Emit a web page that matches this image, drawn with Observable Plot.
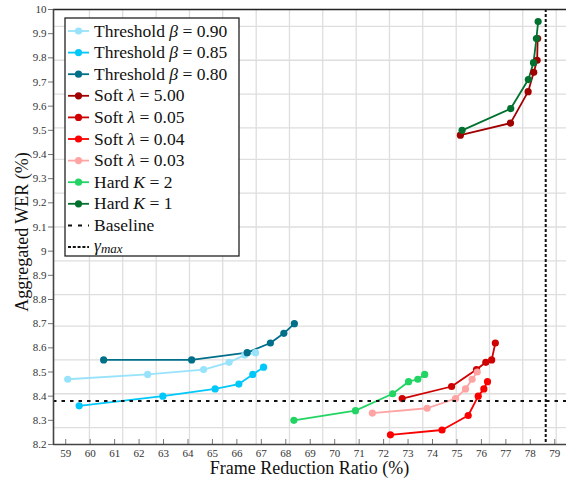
<!DOCTYPE html>
<html><head><meta charset="utf-8">
<script src="https://cdn.jsdelivr.net/npm/d3@7"></script>
<script src="https://cdn.jsdelivr.net/npm/@observablehq/plot@0.6"></script>
<style>
body{margin:0;background:#fff;}
#wrap{position:relative;width:566px;height:478px;}
#overlay{position:absolute;left:0;top:0;pointer-events:none;}
#chart svg text, #overlay text{font-family:"Liberation Serif";}
</style>
</head><body>
<div id="wrap"><div id="chart"></div><svg id="overlay" width="566" height="478"></svg></div>
<script>
// ---- data ----
const thr090X = [59.08, 62.35, 64.64, 65.68, 66.32, 66.76];
const thr090Y = [8.47, 8.49, 8.51, 8.54, 8.57, 8.58];
const thr085X = [59.55, 62.97, 65.11, 66.08, 66.65, 67.09];
const thr085Y = [8.36, 8.40, 8.43, 8.45, 8.49, 8.52];
const thr080X = [60.55, 64.15, 66.42, 67.37, 67.92, 68.35];
const thr080Y = [8.55, 8.55, 8.58, 8.62, 8.66, 8.70];
const soft500X = [75.14, 77.19, 77.91, 78.14, 78.28, 78.30];
const soft500Y = [9.48, 9.53, 9.66, 9.74, 9.79, 9.88];
const soft005X = [72.76, 74.78, 75.80, 76.18, 76.42, 76.57];
const soft005Y = [8.39, 8.44, 8.51, 8.54, 8.55, 8.62];
const soft004X = [72.28, 74.39, 75.46, 75.87, 76.10, 76.25];
const soft004Y = [8.24, 8.26, 8.32, 8.40, 8.43, 8.46];
const soft003X = [71.54, 73.78, 74.94, 75.35, 75.62, 75.83];
const soft003Y = [8.33, 8.35, 8.39, 8.43, 8.47, 8.50];
const hard2X = [68.33, 70.85, 72.37, 73.02, 73.40, 73.68];
const hard2Y = [8.30, 8.34, 8.41, 8.46, 8.47, 8.49];
const hard1X = [75.21, 77.20, 77.92, 78.13, 78.25, 78.32];
const hard1Y = [9.50, 9.59, 9.71, 9.78, 9.88, 9.95];

const baselineWER = 8.38;
const gammaMax = 78.63;

const seriesKeys = ["thr090","thr085","thr080","soft500","soft005","soft004","soft003","hard2","hard1"];
const seriesColors = ["#98e3fb","#00c8fa","#006f8a","#a00000","#cf0000","#fa0000","#ffa3a3","#22d463","#00712f"];
const legendPrefix = ["Threshold ","Threshold ","Threshold ","Soft ","Soft ","Soft ","Soft ","Hard ","Hard "];
const legendSymbol = ["β","β","β","λ","λ","λ","λ","K","K"];
const legendValue = ["0.90","0.85","0.80","5.00","0.05","0.04","0.03","2","1"];

const xTicks = [59,60,61,62,63,64,65,66,67,68,69,70,71,72,73,74,75,76,77,78,79];
const yTicks = [8.2,8.3,8.4,8.5,8.6,8.7,8.8,8.9,9,9.1,9.2,9.3,9.4,9.5,9.6,9.7,9.8,9.9,10];
const gridXs = [59.97,61.33,62.70,64.06,65.42,66.79,68.15,69.51,70.88,72.24,73.60,74.97,76.33,77.69,79.06];
const gridYs = [8.27,8.41,8.55,8.69,8.82,8.96,9.10,9.24,9.38,9.51,9.65,9.79,9.93];

const seriesXs = [thr090X,thr085X,thr080X,soft500X,soft005X,soft004X,soft003X,hard2X,hard1X];
const seriesYs = [thr090Y,thr085Y,thr080Y,soft500Y,soft005Y,soft004Y,soft003Y,hard2Y,hard1Y];
const rows = [];
seriesKeys.forEach((k,i)=>seriesXs[i].forEach((x,j)=>rows.push({series:k,x,y:seriesYs[i][j]})));

const font = "Liberation Serif";
const chart = Plot.plot({
  width: 566, height: 478,
  marginLeft: 53, marginRight: 0, marginTop: 9, marginBottom: 34,
  x: {domain: [58.5, 79.48]},
  y: {domain: [8.2, 10]},
  color: {domain: seriesKeys, range: seriesColors},
  style: {fontFamily: font, fontSize: "11px", background: "white", color: "#333"},
  marks: [
    Plot.gridX(gridXs, {stroke: "#dedede", strokeOpacity: 1, strokeWidth: 1.3}),
    Plot.gridY(gridYs, {stroke: "#dedede", strokeOpacity: 1, strokeWidth: 1.3}),
    Plot.axisX(xTicks, {tickSize: 0, tickPadding: 5, label: null, fontSize: 11, tickFormat: d => String(d)}),
    Plot.tickX(xTicks, {x: d => d, insetTop: 430, stroke: "#777", strokeWidth: 1}),
    Plot.axisY(yTicks, {tickSize: 5, tickPadding: 2, label: null, fontSize: 11, stroke: "#777", tickFormat: d => String(d)}),
    Plot.line(rows, {x: "x", y: "y", z: "series", stroke: "series", strokeWidth: 1.8}),
    Plot.dot(rows, {x: "x", y: "y", fill: "series", r: 3.6}),
    Plot.ruleY([baselineWER], {stroke: "#111", strokeWidth: 2, strokeDasharray: "3.5,5"}),
    Plot.ruleX([gammaMax], {stroke: "#111", strokeWidth: 2, strokeDasharray: "3,2"}),
    Plot.ruleY([10], {stroke: "#222", strokeWidth: 1.3}),
    Plot.ruleY([8.2], {stroke: "#444", strokeWidth: 1.6}),
    Plot.ruleX([58.5], {stroke: "#444", strokeWidth: 1.6})
  ]
});
document.getElementById("chart").appendChild(chart);

// ---- overlay: legend and axis titles ----
const ov = d3.select("#overlay");
ov.append("text").attr("x", 309.5).attr("y", 474).attr("text-anchor","middle")
  .attr("font-family", font).attr("font-size", 18).attr("fill","#111").text("Frame Reduction Ratio (%)");
ov.append("text").attr("transform","translate(28,232) rotate(-90)").attr("text-anchor","middle")
  .attr("font-family", font).attr("font-size", 18).attr("fill","#111").text("Aggregated WER (%)");

const lg = ov.append("g");
lg.append("rect").attr("x",65).attr("y",18).attr("width",174).attr("height",238)
  .attr("fill","white").attr("stroke","#222").attr("stroke-width",1.3);
const step = 21.6, y0 = 31;
const fs = 17.5;
seriesKeys.forEach((k,i)=>{
  const cy = y0 + i*step;
  lg.append("line").attr("x1",68).attr("x2",89).attr("y1",cy).attr("y2",cy).attr("stroke",seriesColors[i]).attr("stroke-width",1.8);
  lg.append("circle").attr("cx",78.5).attr("cy",cy).attr("r",3.6).attr("fill",seriesColors[i]);
  const t = lg.append("text").attr("x",94).attr("y",cy+5.5).attr("font-family",font).attr("font-size",fs).attr("fill","#111");
  t.append("tspan").text(legendPrefix[i]);
  t.append("tspan").attr("font-style","italic").text(legendSymbol[i]);
  t.append("tspan").text(" = " + legendValue[i]);
});
{
  const cy = y0 + 9*step;
  lg.append("line").attr("x1",68).attr("x2",89).attr("y1",cy).attr("y2",cy).attr("stroke","#111").attr("stroke-width",2).attr("stroke-dasharray","4,6");
  lg.append("text").attr("x",94).attr("y",cy+5.5).attr("font-family",font).attr("font-size",fs).attr("fill","#111").text("Baseline");
  const cy2 = y0 + 10*step;
  lg.append("line").attr("x1",68).attr("x2",89).attr("y1",cy2).attr("y2",cy2).attr("stroke","#111").attr("stroke-width",2).attr("stroke-dasharray","3,1.8");
  const t = lg.append("text").attr("x",94).attr("y",cy2+4).attr("font-family",font).attr("font-size",fs).attr("fill","#111");
  t.append("tspan").attr("font-style","italic").text("γ");
  t.append("tspan").attr("font-style","italic").attr("font-size",13).attr("dy",2).text("max");
}
</script>
</body></html>
